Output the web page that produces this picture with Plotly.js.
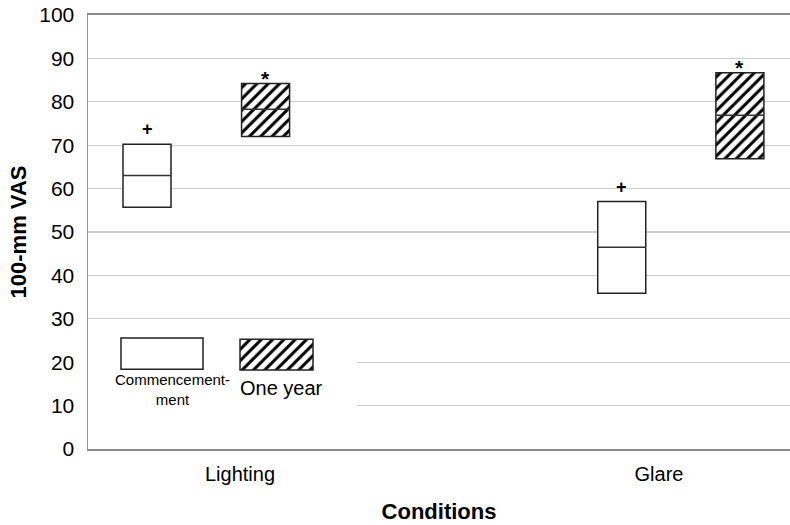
<!DOCTYPE html>
<html>
<head>
<meta charset="utf-8">
<script src="https://cdn.plot.ly/plotly-3.0.1.min.js"></script>
<style>html,body{margin:0;padding:0;background:#fff;}#chart{width:790px;height:525px;}</style>
</head>
<body>
<div id="chart"></div>
<script>
// ---- data ----
var conditions = ["Lighting", "Glare"];
var groups = ["Commencement", "One year"];
var q1Commencement = [55.7, 35.9];
var medianCommencement = [63.0, 46.5];
var q3Commencement = [70.2, 57.0];
var q1OneYear = [72.0, 66.9];
var medianOneYear = [78.3, 76.9];
var q3OneYear = [84.2, 86.7];
var markCommencement = ["+", "+"];
var markOneYear = ["*", "*"];

// ---- layout constants (positions / sizes / styles) ----
var tickPos = [1, 2];
var xPosCommencement = [0.778, 1.911];
var xPosOneYear = [1.061, 2.193];
var boxWidth = 0.1146;
var xRange = [0.6372, 2.3126];
var FONT = "Liberation Sans, Arial, sans-serif";

function diff(a, b) { return a.map(function (v, i) { return v - b[i]; }); }
function medianSegments(xs, meds) {
  var x = [], y = [];
  xs.forEach(function (c, i) {
    x.push(c - boxWidth / 2, c + boxWidth / 2, null);
    y.push(meds[i], meds[i], null);
  });
  return {x: x, y: y};
}

var hatch = {shape: "/", fgcolor: "#000", bgcolor: "#fff", size: 8, solidity: 0.38, fillmode: "replace"};

var traces = [];
traces.push({
  type: "bar", name: groups[0], x: xPosCommencement, y: diff(q3Commencement, q1Commencement),
  base: q1Commencement, width: boxWidth,
  marker: {color: "#fff", line: {color: "#222", width: 1.5}}, showlegend: false, hoverinfo: "skip"
});
traces.push({
  type: "bar", name: groups[1], x: xPosOneYear, y: diff(q3OneYear, q1OneYear),
  base: q1OneYear, width: boxWidth,
  marker: {color: "#fff", pattern: hatch, line: {color: "#222", width: 1.5}}, showlegend: false, hoverinfo: "skip"
});
var mc = medianSegments(xPosCommencement, medianCommencement);
var mo = medianSegments(xPosOneYear, medianOneYear);
traces.push({type: "scatter", mode: "lines", x: mc.x, y: mc.y, line: {color: "#333", width: 1.5}, showlegend: false, hoverinfo: "skip"});
traces.push({type: "scatter", mode: "lines", x: mo.x, y: mo.y, line: {color: "#333", width: 1.5}, showlegend: false, hoverinfo: "skip"});

// legend swatches (decoration)
var legCommencement = {x: 0.8138, w: 0.1957, y0: 18.4, y1: 25.6};
var legOneYear = {x: 1.0871, w: 0.1742, y0: 18.2, y1: 25.3};
traces.push({
  type: "bar", x: [legCommencement.x], y: [legCommencement.y1 - legCommencement.y0], base: [legCommencement.y0],
  width: legCommencement.w, marker: {color: "#fff", line: {color: "#222", width: 1.5}}, showlegend: false, hoverinfo: "skip"
});
traces.push({
  type: "bar", x: [legOneYear.x], y: [legOneYear.y1 - legOneYear.y0], base: [legOneYear.y0],
  width: legOneYear.w, marker: {color: "#fff", pattern: hatch, line: {color: "#222", width: 1.5}}, showlegend: false, hoverinfo: "skip"
});

var annotations = [];
xPosCommencement.forEach(function (x, i) {
  annotations.push({x: x, y: q3Commencement[i], xref: "x", yref: "y", text: markCommencement[i], showarrow: false,
    yanchor: "middle", yshift: 15, font: {family: FONT, size: 18, color: "#000", weight: "bold"}});
});
xPosOneYear.forEach(function (x, i) {
  annotations.push({x: x, y: q3OneYear[i], xref: "x", yref: "y", text: markOneYear[i], showarrow: false,
    yanchor: "middle", yshift: 5, font: {family: FONT, size: 21, color: "#000", weight: "bold"}});
});
// legend labels
annotations.push({x: 0.8377, y: 13.66, xref: "x", yref: "y", text: "Commencement-<br>ment", align: "center",
  showarrow: false, font: {family: FONT, size: 15, color: "#000"}});
annotations.push({x: 1.0979, y: 14.1, xref: "x", yref: "y", text: "One year", showarrow: false,
  font: {family: FONT, size: 20, color: "#000"}});

var layout = {
  width: 790, height: 525,
  margin: {l: 88, r: 0, t: 15, b: 76},
  paper_bgcolor: "#fff", plot_bgcolor: "#fff",
  barmode: "overlay",
  font: {family: FONT, color: "#000"},
  xaxis: {
    range: xRange, tickmode: "array", tickvals: tickPos, ticktext: conditions,
    showgrid: false, zeroline: false, showline: true, mirror: true, linecolor: "#8a8a8a", linewidth: 2,
    ticks: "", ticklabelstandoff: 6, tickfont: {family: FONT, size: 20, color: "#000"},
    title: {text: "Conditions", standoff: 20, font: {family: FONT, size: 22, color: "#000", weight: "bold"}}
  },
  yaxis: {
    range: [0, 100], tickmode: "array", tickvals: [0,10,20,30,40,50,60,70,80,90,100],
    showgrid: true, gridcolor: "#cfcfcf", gridwidth: 1.3, zeroline: false,
    showline: true, linecolor: "#9a9a9a", linewidth: 1.5,
    ticks: "", ticklabelstandoff: 8, tickfont: {family: FONT, size: 21, color: "#000"},
    title: {text: "100-mm VAS", standoff: 6, font: {family: FONT, size: 22, color: "#000", weight: "bold"}}
  },
  shapes: [{
    type: "rect", xref: "x", yref: "y", x0: xRange[0], x1: 1.2792, y0: 2, y1: 28,
    fillcolor: "#fff", line: {width: 0}, layer: "between"
  }],
  annotations: annotations
};

Plotly.newPlot("chart", traces, layout, {displayModeBar: false, staticPlot: true});
</script>
</body>
</html>
